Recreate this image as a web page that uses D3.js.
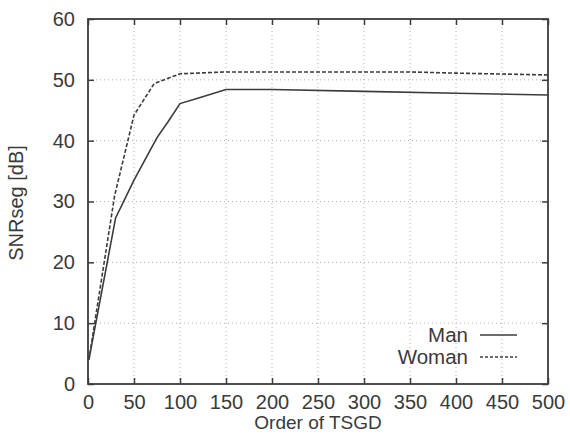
<!DOCTYPE html>
<html>
<head>
<meta charset="utf-8">
<script src="https://cdn.jsdelivr.net/npm/d3@7"></script>
<style>
  body { margin: 0; background: #fff; }
  text { font-family: "Liberation Sans", Arial, sans-serif; fill: #3a3a3a; }
</style>
</head>
<body>
<div id="chart"></div>
<script>
// data
var orderMan   = [1, 30, 50, 75, 87, 100, 122, 150, 200, 300, 400, 500];
var snrMan     = [4.0, 27.3, 33.5, 40.5, 43.1, 46.1, 47.1, 48.4, 48.4, 48.1, 47.8, 47.5];
var orderWoman = [1, 29, 50, 72, 100, 150, 200, 300, 350, 400, 500];
var snrWoman   = [4.0, 31.0, 44.2, 49.4, 51.0, 51.3, 51.3, 51.3, 51.3, 51.1, 50.8];
var xTicks = [0, 50, 100, 150, 200, 250, 300, 350, 400, 450, 500];
var yTicks = [0, 10, 20, 30, 40, 50, 60];
var seriesNames = ["Man", "Woman"];

var margin = {top: 19, right: 22, bottom: 50, left: 88},
    width = 570 - margin.left - margin.right,
    height = 434 - margin.top - margin.bottom;

var svg = d3.select("#chart")
    .append("svg")
    .attr("width", 570)
    .attr("height", 434)
    .append("g")
    .attr("transform", "translate(" + margin.left + "," + margin.top + ")");

var x = d3.scaleLinear().domain([0, 500]).range([0, width]);
var y = d3.scaleLinear().domain([0, 60]).range([height, 0]);

var ink = "#3c3c3c";

// grid (dotted)
svg.append("g")
    .selectAll("line")
    .data(xTicks.slice(1, -1))
    .enter().append("line")
    .attr("x1", d => x(d)).attr("x2", d => x(d))
    .attr("y1", 0).attr("y2", height)
    .attr("stroke", "#b0b0b0").attr("stroke-width", 1)
    .attr("stroke-dasharray", "1,3");
svg.append("g")
    .selectAll("line")
    .data(yTicks.slice(1, -1))
    .enter().append("line")
    .attr("x1", 0).attr("x2", width)
    .attr("y1", d => y(d)).attr("y2", d => y(d))
    .attr("stroke", "#b0b0b0").attr("stroke-width", 1)
    .attr("stroke-dasharray", "1,3");

// axes, ticks pointing inward on all four sides
function styleAxis(g) {
    g.select(".domain").remove();
    g.selectAll("line").attr("stroke", ink).attr("stroke-width", 1.5);
    g.selectAll("text").style("font-size", "20px").attr("fill", ink);
}
svg.append("g")
    .attr("transform", "translate(0," + height + ")")
    .call(d3.axisBottom(x).tickValues(xTicks).tickSizeInner(-6).tickSizeOuter(0).tickPadding(11))
    .call(styleAxis);
svg.append("g")
    .call(d3.axisLeft(y).tickValues(yTicks).tickSizeInner(-6).tickSizeOuter(0).tickPadding(13))
    .call(styleAxis);
svg.append("g")
    .call(d3.axisTop(x).tickValues(xTicks).tickSizeInner(-6).tickSizeOuter(0).tickFormat(""))
    .call(styleAxis);
svg.append("g")
    .attr("transform", "translate(" + width + ",0)")
    .call(d3.axisRight(y).tickValues(yTicks).tickSizeInner(-6).tickSizeOuter(0).tickFormat(""))
    .call(styleAxis);

svg.append("rect")
    .attr("width", width).attr("height", height)
    .attr("fill", "none").attr("stroke", ink).attr("stroke-width", 1.8);

// lines
var line = d3.line().x(d => x(d[0])).y(d => y(d[1]));
var manPts = orderMan.map((o, i) => [o, snrMan[i]]);
var womanPts = orderWoman.map((o, i) => [o, snrWoman[i]]);

svg.append("path").datum(manPts)
    .attr("d", line).attr("fill", "none")
    .attr("stroke", ink).attr("stroke-width", 1.6);
svg.append("path").datum(womanPts)
    .attr("d", line).attr("fill", "none")
    .attr("stroke", ink).attr("stroke-width", 1.6)
    .attr("stroke-dasharray", "4,2");

// legend
var legend = svg.append("g").attr("transform", "translate(380,316)");
seriesNames.forEach(function(name, i) {
    legend.append("text")
        .attr("x", 0).attr("y", i * 22 + 7)
        .attr("text-anchor", "end")
        .style("font-size", "20.5px")
        .text(name);
    legend.append("line")
        .attr("x1", 12).attr("x2", 49)
        .attr("y1", i * 22).attr("y2", i * 22)
        .attr("stroke", ink).attr("stroke-width", 1.4)
        .attr("stroke-dasharray", i === 0 ? null : "3,2");
});

// axis titles
svg.append("text")
    .attr("x", width / 2).attr("y", height + 45)
    .attr("text-anchor", "middle")
    .style("font-size", "19px")
    .text("Order of TSGD");
svg.append("text")
    .attr("transform", "translate(-65,184) rotate(-90)")
    .attr("text-anchor", "middle")
    .style("font-size", "20px")
    .text("SNRseg [dB]");
</script>
</body>
</html>
